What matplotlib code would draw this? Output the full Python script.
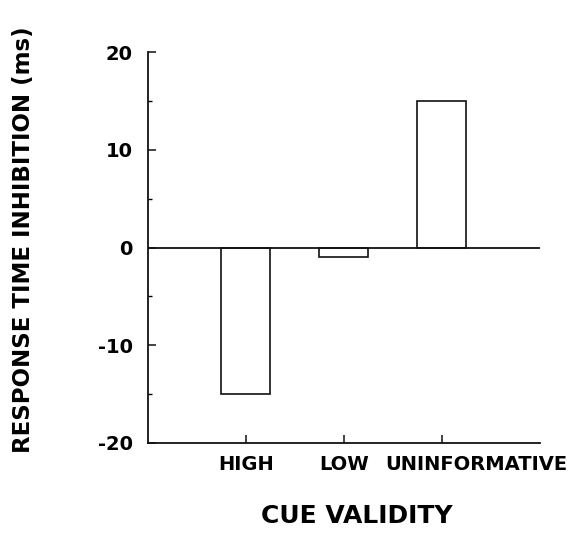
import matplotlib
matplotlib.use("Agg")
import matplotlib.pyplot as plt
import matplotlib.transforms as mtransforms
from matplotlib.ticker import MultipleLocator

categories = ["HIGH", "LOW", "UNINFORMATIVE"]
inhibition = [-15, -1, 15]
y_ticks = [-20, -10, 0, 10, 20]

plt.rcParams["font.family"] = "DejaVu Sans"
plt.rcParams["font.weight"] = "bold"

fig = plt.figure(figsize=(5.78, 5.33), dpi=100)
ax = fig.add_axes([0.256, 0.169, 0.678, 0.733])

x = list(range(1, len(categories) + 1))
ax.bar(x, inhibition, width=0.5, color="white", edgecolor="#111111",
       linewidth=1.2, zorder=3)
ax.axhline(0, color="#111111", lw=1.3, zorder=4)

ax.set_xlim(0, 4)
ax.set_ylim(-20, 20)
ax.set_xticks(x)
ax.set_xticklabels(categories, fontsize=14, fontweight="bold")
ax.set_yticks(y_ticks)
ax.set_yticklabels([str(v) for v in y_ticks], fontsize=14, fontweight="bold")
ax.yaxis.set_minor_locator(MultipleLocator(5))

ax.tick_params(axis="both", which="major", direction="in", length=6,
               width=1.1, color="#111111", pad=9)
ax.tick_params(axis="y", which="minor", direction="in", length=3, width=1.0)
ax.tick_params(axis="y", which="major", pad=11)

for side in ["top", "right"]:
    ax.spines[side].set_visible(False)
for side in ["left", "bottom"]:
    ax.spines[side].set_linewidth(1.3)
    ax.spines[side].set_color("#111111")

# the last label sits off to the right of its tick in the original
lbl = ax.get_xticklabels()[2]
lbl.set_transform(lbl.get_transform() + mtransforms.ScaledTranslation(
    0.34, 0, fig.dpi_scale_trans))

fig.text(357 / 578, 1 - 516 / 533, "CUE VALIDITY", fontsize=18,
         fontweight="bold", ha="center", va="center")
fig.text(24 / 578, 1 - 240 / 533, "RESPONSE TIME INHIBITION (ms)",
         fontsize=16.5, fontweight="bold", ha="center", va="center",
         rotation=90)

fig.savefig("out.png", dpi=100, facecolor="white")
